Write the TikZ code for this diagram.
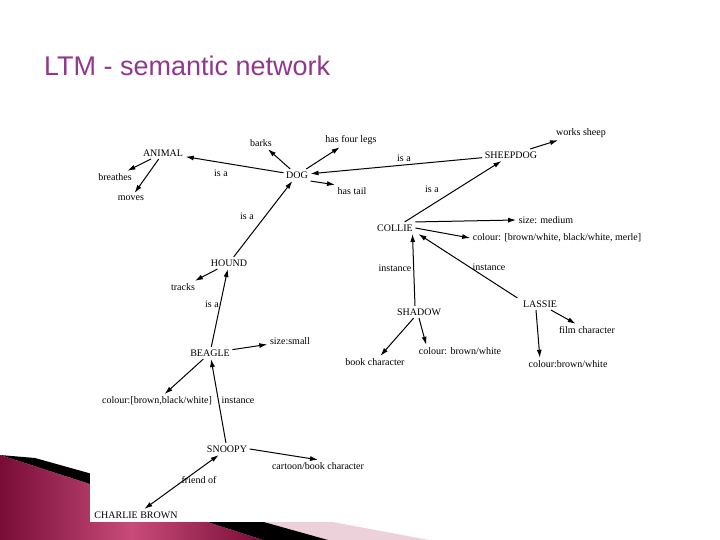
\documentclass[tikz,border=0pt]{standalone}
\usepackage{fontspec}
\setmainfont{Liberation Serif}
\newfontfamily\titlefont{Liberation Sans}
\usetikzlibrary{arrows.meta}
\definecolor{titlepurple}{RGB}{145,55,140}
\definecolor{maroonA}{RGB}{120,12,55}
\definecolor{maroonB}{RGB}{200,75,120}
\definecolor{pinkband}{RGB}{236,208,218}
\begin{document}
\begin{tikzpicture}[x=1pt,y=-1pt,
  lbl/.style={inner sep=2.5pt, font=\fontsize{10}{12}\selectfont},
  rel/.style={inner sep=1pt, font=\fontsize{10}{12}\selectfont},
  arr/.style={-{Latex[length=8pt,width=5pt]}, line width=1pt},
  darr/.style={{Latex[length=8pt,width=5pt]}-{Latex[length=8pt,width=5pt]}, line width=1pt}]
\useasboundingbox (0,0) rectangle (720,540);
\fill[white] (0,0) rectangle (720,540);
% slide decoration
\fill[pinkband] (0,460) -- (429,540) -- (0,540) -- cycle;
\fill[black] (35,458) -- (328,540) -- (263,540) -- (0,455) -- cycle;
\shade[left color=maroonA, right color=maroonA, middle color=maroonB] (0,455) -- (263,540) -- (0,540) -- cycle;
\fill[white] (90,100) rectangle (720,522);
% title
\node[anchor=base west, inner sep=0pt, text=titlepurple, font=\titlefont\fontsize{27}{32}\selectfont] (title) at (44,76) {LTM - semantic\ network};
% concept nodes
\node[lbl] (animal) at (163,153) {ANIMAL};
\node[lbl] (breathes) at (115,177) {breathes};
\node[lbl] (moves) at (131,198) {moves};
\node[lbl] (barks) at (261,143) {barks};
\node[lbl] (legs) at (351,140) {has four legs};
\node[lbl] (dog) at (297,175) {DOG};
\node[lbl] (tail) at (352,191) {has tail};
\node[lbl] (sheepdog) at (511,155) {SHEEPDOG};
\node[lbl] (works) at (581,133) {works sheep};
\node[lbl] (collie) at (395,228) {COLLIE};
\node[lbl] (medium) at (546,220) {size: medium};
\node[lbl] (colcol) at (557,238) {colour: [brown/white, black/white, merle]};
\node[lbl] (hound) at (229,263) {HOUND};
\node[lbl] (tracks) at (183,287) {tracks};
\node[lbl] (beagle) at (210,353) {BEAGLE};
\node[lbl] (small) at (290,341) {size:small};
\node[lbl] (colbeagle) at (157,401) {colour:[brown,black/white]};
\node[lbl] (shadow) at (419,312) {SHADOW};
\node[lbl] (lassie) at (540,304) {LASSIE};
\node[lbl] (film) at (587,330) {film character};
\node[lbl] (book) at (375,362) {book character};
\node[lbl] (colshadow) at (460,351) {colour: brown/white};
\node[lbl] (collassie) at (568,364) {colour:brown/white};
\node[lbl] (snoopy) at (227,449) {SNOOPY};
\node[lbl] (cartoon) at (318,466) {cartoon/book character};
\node[lbl] (charlie) at (136,515) {CHARLIE BROWN};
% relation labels
\node[rel] (r1) at (221,173) {is a};
\node[rel] (r2) at (404,158) {is a};
\node[rel] (r3) at (432,189) {is a};
\node[rel] (r4) at (247,216) {is a};
\node[rel] (r5) at (212,304) {is a};
\node[rel] (r6) at (395,268) {instance};
\node[rel] (r7) at (489,267) {instance};
\node[rel] (r8) at (238,400) {instance};
\node[rel] (r9) at (199,480) {friend of};
% connectors
\draw[arr] (dog) -- (animal);
\draw[arr] (animal) -- (breathes);
\draw[arr] (animal) -- (moves);
\draw[arr] (dog) -- (barks);
\draw[arr] (dog) -- (legs);
\draw[arr] (dog.south east) -- (tail.north west);
\draw[arr] (sheepdog) -- (dog);
\draw[arr] (sheepdog) -- (works);
\draw[arr] (collie) -- (sheepdog);
\draw[arr] (hound) -- (dog);
\draw[arr] (collie.north east) -- (medium.west);
\draw[arr] (collie.east) -- (colcol.west);
\draw[arr] ([xshift=-4pt]shadow.north) -- ([xshift=-3pt]collie.south east);
\draw[arr] ([xshift=-3pt]lassie.north west) -- ([xshift=3pt]collie.south east);
\draw[arr] (shadow) -- (book);
\draw[arr] (shadow.south) -- ([xshift=10pt]colshadow.north west);
\draw[arr] (lassie) -- (film);
\draw[arr] ([xshift=-4pt]lassie.south) -- ([xshift=14pt]collassie.north west);
\draw[arr] (hound) -- (tracks);
\draw[arr] (beagle) -- (hound);
\draw[arr] (beagle) -- (small);
\draw[arr] (beagle) -- (colbeagle);
\draw[arr] (snoopy) -- (beagle);
\draw[arr] (snoopy.east) -- (cartoon.north);
\draw[darr] (charlie) -- (snoopy);
\end{tikzpicture}
\end{document}
